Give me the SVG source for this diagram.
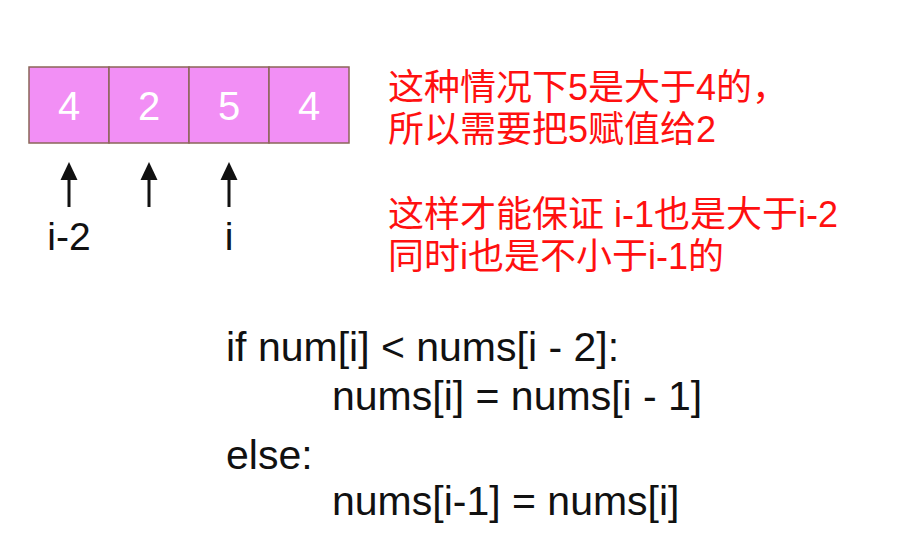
<svg xmlns="http://www.w3.org/2000/svg" width="902" height="542" viewBox="0 0 902 542">
  <defs>
    <style>
      .cell { fill: #f28ff5; stroke: #8a6658; stroke-width: 1.5; }
      .num { font-family: "Liberation Sans", Arial, sans-serif; font-size: 40px; fill: #ffffff; text-anchor: middle; }
      .lbl { font-family: "Liberation Sans", Arial, sans-serif; font-size: 39px; fill: #111111; text-anchor: middle; }
      .note { font-family: "Liberation Sans", "Noto Sans CJK SC", sans-serif; font-size: 36px; fill: #ff1010; }
      .code { font-family: "Liberation Sans", Arial, sans-serif; font-size: 41px; fill: #111111; }
      .ptr { stroke: #111111; stroke-width: 3; fill: none; }
      .head { fill: #111111; }
    </style>
  </defs>
  <rect width="902" height="542" fill="#ffffff"/>
  <g id="array">
    <g id="cell0"><rect class="cell" x="29" y="67" width="80" height="76"/><text class="num" x="69" y="120">4</text></g>
    <g id="cell1"><rect class="cell" x="109" y="67" width="80" height="76"/><text class="num" x="149" y="120">2</text></g>
    <g id="cell2"><rect class="cell" x="189" y="67" width="80" height="76"/><text class="num" x="229" y="120">5</text></g>
    <g id="cell3"><rect class="cell" x="269" y="67" width="80" height="76"/><text class="num" x="309" y="120">4</text></g>
  </g>
  <g id="connectors">
    <line class="ptr" x1="69" y1="207" x2="69" y2="175"/>
    <polygon class="head" points="69,162 60.5,180 77.5,180"/>
    <line class="ptr" x1="149" y1="207" x2="149" y2="175"/>
    <polygon class="head" points="149,162 140.5,180 157.5,180"/>
    <line class="ptr" x1="229" y1="207" x2="229" y2="175"/>
    <polygon class="head" points="229,162 220.5,180 237.5,180"/>
  </g>
  <g id="labels">
    <text class="lbl" x="69" y="250">i-2</text>
    <text class="lbl" x="229" y="250">i</text>
  </g>
  <g id="note">
    <text class="note" x="388" y="100">这种情况下5是大于4的，</text>
    <text class="note" x="388" y="142">所以需要把5赋值给2</text>
    <text class="note" x="388" y="227">这样才能保证 i-1也是大于i-2</text>
    <text class="note" x="388" y="269">同时i也是不小于i-1的</text>
  </g>
  <g id="code">
    <text class="code" x="226" y="361">if num[i] &lt; nums[i - 2]:</text>
    <text class="code" x="332" y="410">nums[i] = nums[i - 1]</text>
    <text class="code" x="226" y="469">else:</text>
    <text class="code" x="332" y="515">nums[i-1] = nums[i]</text>
  </g>
</svg>
